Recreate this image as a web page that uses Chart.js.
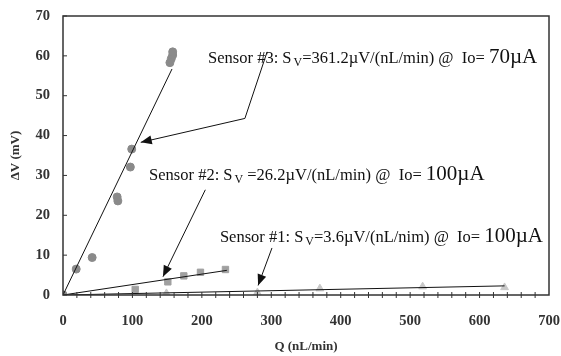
<!DOCTYPE html>
<html>
<head>
<meta charset="utf-8">
<script src="https://cdn.jsdelivr.net/npm/chart.js@4.4.1/dist/chart.umd.min.js"></script>
<style>
  html, body { margin: 0; padding: 0; background: #fff; }
  #wrap { width: 561px; height: 356px; }
</style>
</head>
<body>
<div id="wrap"><canvas id="c"></canvas></div>
<script>
// data
const xTicks = [0, 100, 200, 300, 400, 500, 600, 700];
const yTicks = [0, 10, 20, 30, 40, 50, 60, 70];

const s3Q  = [0, 19, 42, 78, 79, 97, 99, 154, 156, 158, 158];
const s3dV = [0, 6.5, 9.4, 24.6, 23.6, 32.1, 36.6, 58.3, 59.3, 60.2, 61.0];

const s2Q  = [0, 104, 151, 174, 198, 234];
const s2dV = [0, 1.4, 3.3, 4.8, 5.7, 6.4];

const s1Q  = [0, 149, 280, 370, 518, 636];
const s1dV = [0, 0.4, 0.6, 1.6, 2.1, 1.9];

// fitted sensitivities (mV per nL/min) and fit end points
const s3Slope = 0.3612, s3End = 157;
const s2Slope = 0.0262, s2End = 236;
const s1Slope = 0.0036, s1End = 636;

function pts(xs, ys) { return xs.map((x, i) => ({ x: x, y: ys[i] })); }
function fit(slope, end) { return [{ x: 0, y: 0 }, { x: end, y: slope * end }]; }

const serif = '"Liberation Serif", "DejaVu Serif", serif';

// labels with arrows (positions in data units)
const notes = [
  { pre: 'Sensor #3: S', mid: '=361.2\u00b5V/(nL/min) @  Io= ', big: '70\u00b5A', at: [209, 59.5],
    arrow: [[294, 61], [262, 44.3], [112, 38.3]] },
  { pre: 'Sensor #2: S', mid: ' =26.2\u00b5V/(nL/min) @  Io= ', big: '100\u00b5A', at: [124, 30.2],
    arrow: [[205, 26.4], [144, 4.6]] },
  { pre: 'Sensor #1: S', mid: '=3.6\u00b5V/(nL/nim) @  Io= ', big: '100\u00b5A', at: [226, 14.5],
    arrow: [[301, 11.8], [281, 2.4]] }
];

const frame = {
  id: 'frame',
  afterDatasetsDraw(chart) {
    const { ctx, chartArea: a, scales } = chart;
    const xs = scales.x, ys = scales.y;
    ctx.save();
    ctx.strokeStyle = '#333';
    ctx.lineWidth = 1.5;
    ctx.strokeRect(a.left, a.top, a.right - a.left, a.bottom - a.top);
    ctx.lineWidth = 1;
    // y ticks pointing inward
    yTicks.forEach(v => {
      const p = ys.getPixelForValue(v);
      ctx.beginPath(); ctx.moveTo(a.left, p); ctx.lineTo(a.left + 4, p); ctx.stroke();
    });
    // minor x ticks crossing axis
    for (let v = 20; v < 700; v += 20) {
      const p = xs.getPixelForValue(v);
      ctx.beginPath(); ctx.moveTo(p, a.bottom - 3); ctx.lineTo(p, a.bottom + 3); ctx.stroke();
    }

    // annotations
    ctx.fillStyle = '#111';
    ctx.strokeStyle = '#111';
    ctx.textBaseline = 'alphabetic';
    ctx.textAlign = 'left';
    notes.forEach(n => {
      let x = xs.getPixelForValue(n.at[0]);
      const y = ys.getPixelForValue(n.at[1]) + 5;
      ctx.font = '16.5px ' + serif;
      ctx.fillText(n.pre, x, y); x += ctx.measureText(n.pre).width + 2;
      ctx.font = '12px ' + serif;
      ctx.fillText('V', x, y + 3); x += ctx.measureText('V').width;
      ctx.font = '16.5px ' + serif;
      ctx.fillText(n.mid, x, y); x += ctx.measureText(n.mid).width;
      ctx.font = '21px ' + serif;
      ctx.fillText(n.big, x, y);

      const p = n.arrow.map(q => [xs.getPixelForValue(q[0]), ys.getPixelForValue(q[1])]);
      ctx.lineWidth = 1;
      ctx.beginPath();
      ctx.moveTo(p[0][0], p[0][1]);
      for (let i = 1; i < p.length; i++) ctx.lineTo(p[i][0], p[i][1]);
      ctx.stroke();
      const e = p[p.length - 1], s = p[p.length - 2];
      const ang = Math.atan2(e[1] - s[1], e[0] - s[0]);
      const L = 11, W = 4.5;
      ctx.beginPath();
      ctx.moveTo(e[0], e[1]);
      ctx.lineTo(e[0] - L * Math.cos(ang) + W * Math.sin(ang), e[1] - L * Math.sin(ang) - W * Math.cos(ang));
      ctx.lineTo(e[0] - L * Math.cos(ang) - W * Math.sin(ang), e[1] - L * Math.sin(ang) + W * Math.cos(ang));
      ctx.closePath();
      ctx.fill();
    });
    ctx.restore();
  }
};

const lineStyle = { type: 'line', borderColor: '#111', borderWidth: 1, pointRadius: 0, fill: false, showLine: true };

new Chart(document.getElementById('c'), {
  type: 'scatter',
  data: {
    datasets: [
      { ...lineStyle, data: fit(s3Slope, s3End) },
      { ...lineStyle, data: fit(s2Slope, s2End) },
      { ...lineStyle, data: fit(s1Slope, s1End) },
      { data: pts(s3Q, s3dV), pointStyle: 'circle', pointRadius: 4, backgroundColor: '#8a8a8a', borderColor: '#8a8a8a' },
      { data: pts(s2Q, s2dV), pointStyle: 'rect', pointRadius: 4.5, backgroundColor: '#a0a0a0', borderColor: '#a0a0a0' },
      { data: pts(s1Q, s1dV), pointStyle: 'triangle', pointRadius: 4.5, backgroundColor: '#c8c8c8', borderColor: '#c8c8c8' }
    ]
  },
  options: {
    responsive: true,
    maintainAspectRatio: false,
    animation: false,
    layout: { padding: { top: 16, right: 12, left: 8, bottom: 0 } },
    plugins: { legend: { display: false }, tooltip: { enabled: false } },
    scales: {
      x: {
        type: 'linear', min: 0, max: 700,
        afterBuildTicks: s => { s.ticks = xTicks.map(v => ({ value: v })); },
        afterFit: s => { s.height = 61; s.paddingLeft = 0; s.paddingRight = 0; },
        grid: { display: false, drawTicks: false },
        border: { display: false },
        ticks: { padding: 18, color: '#333', font: { family: serif, size: 14.5, weight: 'bold' } },
        title: { display: true, text: 'Q (nL/min)', color: '#333', padding: { top: 0, bottom: 2 },
                 font: { family: serif, size: 13, weight: 'bold' } }
      },
      y: {
        min: 0, max: 70,
        afterBuildTicks: s => { s.ticks = yTicks.map(v => ({ value: v })); },
        afterFit: s => { s.width = 55; s.paddingTop = 0; s.paddingBottom = 0; },
        grid: { display: false, drawTicks: false },
        border: { display: false },
        ticks: { padding: 13, color: '#333', font: { family: serif, size: 14.5, weight: 'bold' } },
        title: { display: true, text: '\u0394V (mV)', color: '#333', padding: { top: 0, bottom: 4 },
                 font: { family: serif, size: 13, weight: 'bold' } }
      }
    }
  },
  plugins: [frame]
});
</script>
</body>
</html>
